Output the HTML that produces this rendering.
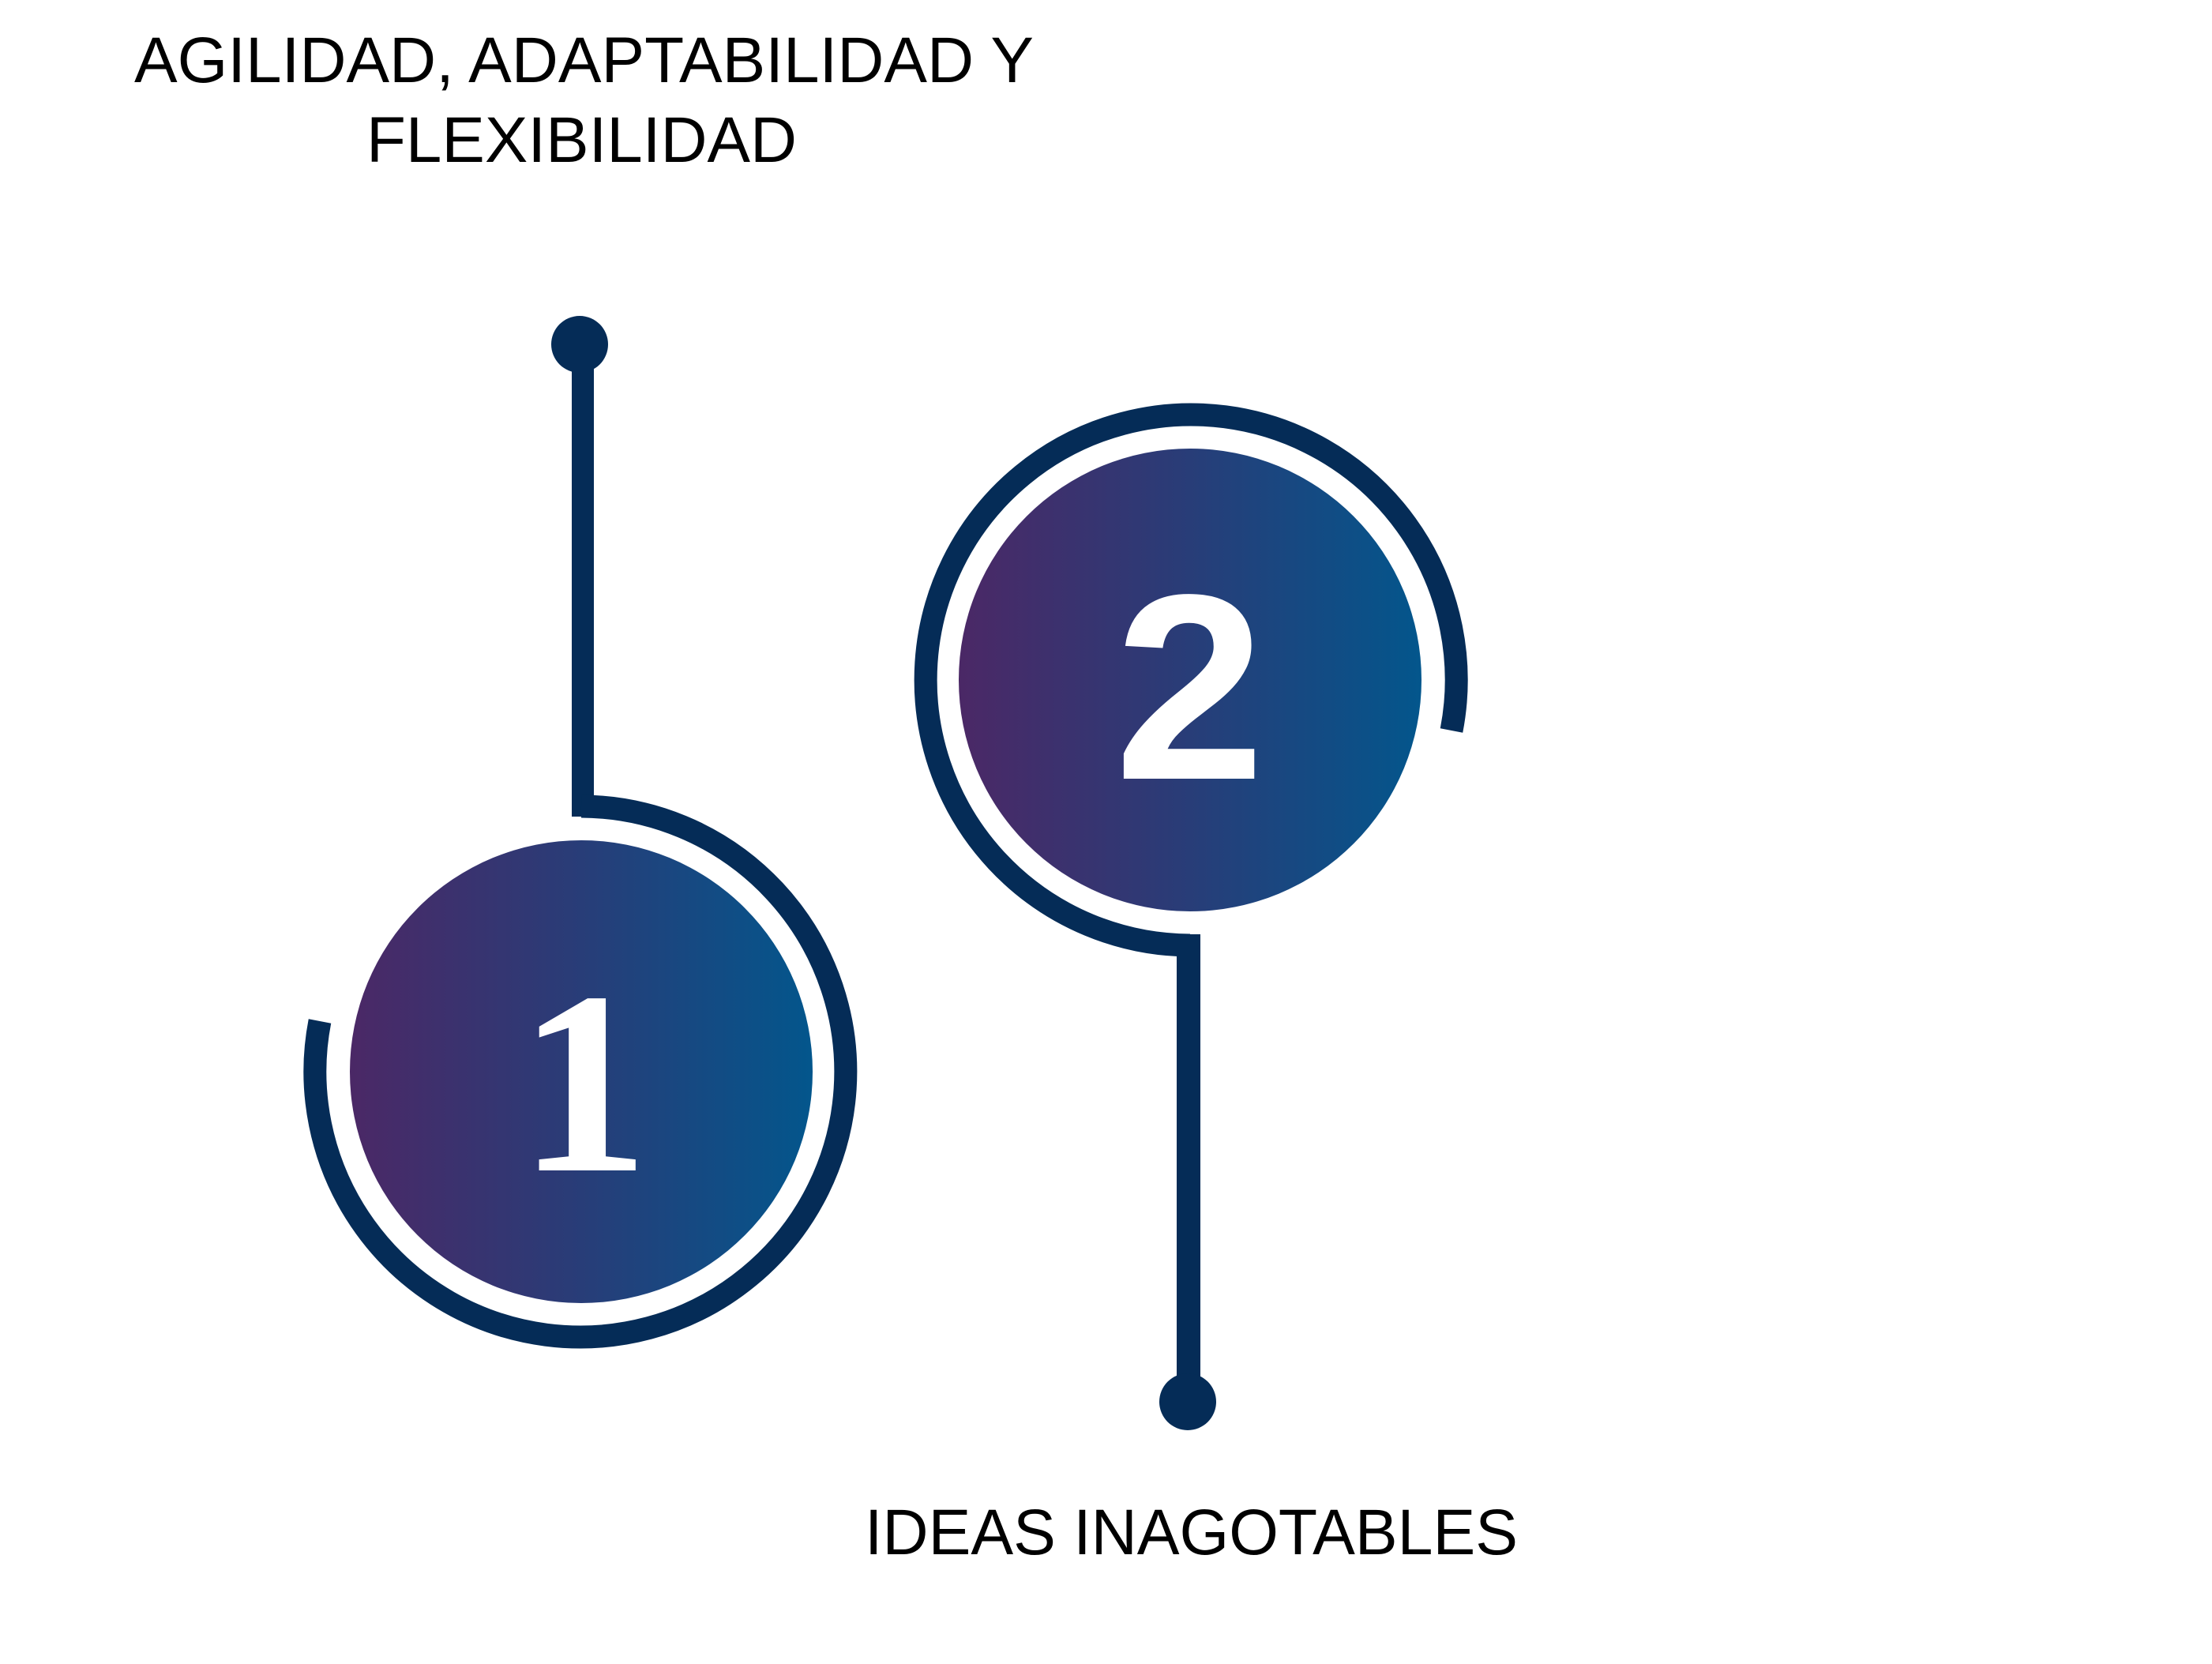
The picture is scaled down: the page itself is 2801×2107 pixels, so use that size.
<!DOCTYPE html>
<html><head><meta charset="utf-8"><style>
html,body{margin:0;padding:0;background:#fff;}
svg{display:block;}
</style></head><body>
<svg width="2801" height="2107" viewBox="0 0 2801 2107" xmlns="http://www.w3.org/2000/svg">
<defs>
<linearGradient id="g" x1="0" x2="1" y1="0" y2="0">
<stop offset="0" stop-color="#4b2866"/>
<stop offset="0.5" stop-color="#283d78"/>
<stop offset="1" stop-color="#03568c"/>
</linearGradient>
</defs>
<g font-family="Liberation Sans, sans-serif" fill="#000">
<text x="170" y="104" font-size="82" textLength="1139" lengthAdjust="spacingAndGlyphs">AGILIDAD, ADAPTABILIDAD Y</text>
<text x="464" y="205" font-size="82" textLength="545" lengthAdjust="spacingAndGlyphs">FLEXIBILIDAD</text>
<text x="1095" y="1968" font-size="82" textLength="827" lengthAdjust="spacingAndGlyphs">IDEAS INAGOTABLES</text>
</g>
<circle cx="734" cy="436" r="36" fill="#052c57"/>
<rect x="724" y="436" width="28" height="598" fill="#052c57"/>
<path d="M736 1021 A336 336 0 1 1 405 1293" fill="none" stroke="#052c57" stroke-width="29"/>
<circle cx="736" cy="1357" r="293" fill="url(#g)"/>
<text x="656" y="1482" font-family="Liberation Serif, serif" font-weight="bold" font-size="330" fill="#fff" textLength="166" lengthAdjust="spacingAndGlyphs">1</text>
<path d="M1507 1197 A336 336 0 1 1 1838 925" fill="none" stroke="#052c57" stroke-width="29"/>
<circle cx="1507" cy="861" r="293" fill="url(#g)"/>
<text x="1411" y="986" font-family="Liberation Sans, sans-serif" font-weight="bold" font-size="335" fill="#fff" textLength="191" lengthAdjust="spacingAndGlyphs">2</text>
<rect x="1490" y="1183" width="30" height="595" fill="#052c57"/>
<circle cx="1504" cy="1775" r="36" fill="#052c57"/>
</svg>
</body></html>
